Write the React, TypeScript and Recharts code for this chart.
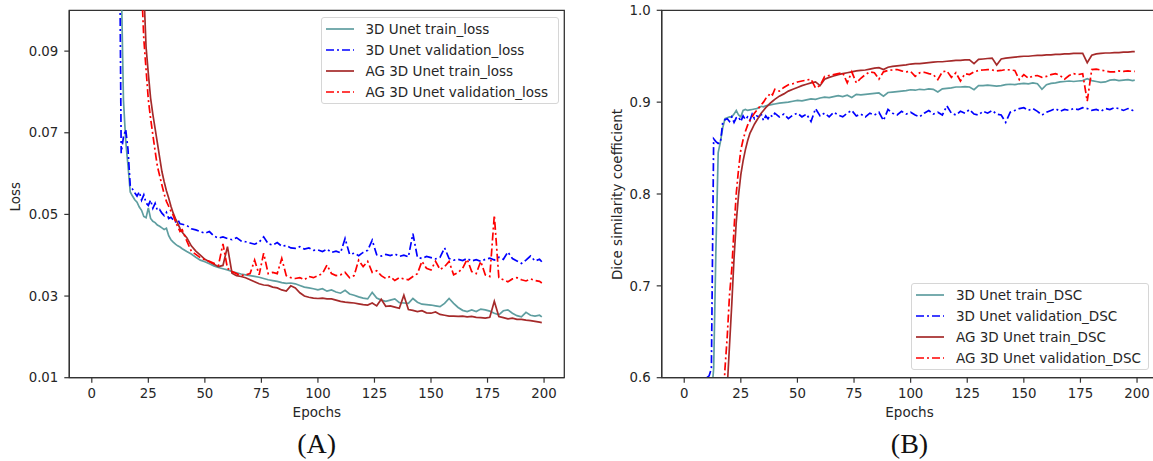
import React from 'react';
import { LineChart, Line, XAxis, YAxis, ReferenceArea } from 'recharts';

// ---------- shared categories ----------
const epochs = [
  10, 11, 12, 13, 14, 15, 16, 17, 18, 19,
  20, 21, 22, 23, 24, 25, 26, 27, 28, 29,
  30, 31, 32, 33, 34, 35, 36, 37, 38, 39,
  40,
  42, 44, 46, 48, 50, 52, 54, 56, 58, 60,
  62, 64, 66, 68, 70, 72, 74, 76, 78, 80,
  82, 84, 86, 88, 90, 92, 94, 96, 98, 100,
  102, 104, 106, 108, 110, 112, 114, 116, 118, 120,
  122, 124, 126, 128, 130, 132, 134, 136, 138, 140,
  142, 144, 146, 148, 150, 152, 154, 156, 158, 160,
  162, 164, 166, 168, 170, 172, 174, 176, 178, 180,
  182, 184, 186, 188, 190, 192, 194, 196, 198,
  199,
];

const xTicks = [0, 25, 50, 75, 100, 125, 150, 175, 200];
const lossTicks = [0.01, 0.03, 0.05, 0.07, 0.09];
const dscTicks = [0.6, 0.7, 0.8, 0.9, 1.0];

// ---------- panel A: loss ----------
const trainLoss3D = [
  0.16, 0.14, 0.125, 0.108, 0.078, 0.068, 0.062, 0.0555, 0.0545, 0.0536,
  0.053, 0.0518, 0.051, 0.0495, 0.0492, 0.0516, 0.049, 0.0483, 0.048, 0.0474,
  0.0471, 0.0467, 0.0463, 0.0466, 0.0448, 0.0438, 0.0432, 0.0427, 0.0423, 0.042,
  0.0416,
  0.0409, 0.0403, 0.0395, 0.0388, 0.0384, 0.0379, 0.0374, 0.037, 0.0367, 0.0364,
  0.036, 0.0357, 0.0354, 0.0352, 0.035, 0.0348, 0.0346, 0.0343, 0.034, 0.0338,
  0.0336, 0.0333, 0.0331, 0.0332, 0.033, 0.0326, 0.0322, 0.032, 0.0318, 0.0315,
  0.0318, 0.0312, 0.0315, 0.031, 0.0307, 0.0314, 0.0305, 0.0302, 0.0298, 0.0295,
  0.0293, 0.0309, 0.0295, 0.029, 0.0287, 0.029, 0.0293, 0.0284, 0.0283, 0.0282,
  0.0294, 0.0285, 0.028, 0.0279, 0.0278, 0.0276, 0.0274, 0.0282, 0.0294, 0.0282,
  0.0272, 0.0265, 0.0262, 0.0266, 0.0262, 0.0268, 0.0266, 0.0263, 0.0258, 0.0254,
  0.0264, 0.0266, 0.0258, 0.0252, 0.0249, 0.026, 0.0253, 0.0251, 0.0253,
  0.0249,
];

const valLoss3D = [
  0.2, 0.17, 0.14, 0.065, 0.069, 0.0708, 0.066, 0.057, 0.0562, 0.0553,
  0.0545, 0.0555, 0.0535, 0.0548, 0.0528, 0.0522, 0.0535, 0.0515, 0.0527, 0.051,
  0.0512, 0.0503, 0.0497, 0.0505, 0.049, 0.0493, 0.0487, 0.0482, 0.0488, 0.0477,
  0.0476,
  0.0473, 0.0465, 0.0462, 0.0458, 0.0454, 0.0458, 0.0447, 0.0442, 0.0445, 0.0441,
  0.0438, 0.0443, 0.0435, 0.0433, 0.043, 0.0427, 0.0432, 0.0445, 0.0428, 0.0425,
  0.0431, 0.0422, 0.0424, 0.0418, 0.0417, 0.0421, 0.0415, 0.0418, 0.0412, 0.0413,
  0.0409, 0.0415, 0.0407, 0.041, 0.0406, 0.0441, 0.0402, 0.0405, 0.0399, 0.0407,
  0.0412, 0.0437, 0.0401, 0.0398, 0.0402, 0.0399, 0.0403, 0.0397, 0.04, 0.0396,
  0.0453, 0.0395, 0.0392, 0.0397, 0.0394, 0.0391, 0.0395, 0.0418, 0.0392, 0.0388,
  0.039, 0.0387, 0.0392, 0.0386, 0.0389, 0.0385, 0.039, 0.0393, 0.0388, 0.0395,
  0.039, 0.0408, 0.0392, 0.0386, 0.038, 0.0388, 0.0398, 0.0386, 0.039,
  0.0384,
];

const trainLossAG = [
  0.3, 0.28, 0.26, 0.24, 0.22, 0.2, 0.185, 0.17, 0.155, 0.145,
  0.135, 0.125, 0.115, 0.105, 0.091, 0.0845, 0.0785, 0.0745, 0.071, 0.0675,
  0.064, 0.0605, 0.058, 0.0558, 0.054, 0.052, 0.0503, 0.049, 0.0478, 0.0466,
  0.0456,
  0.0443, 0.0423, 0.041, 0.04, 0.039, 0.0384, 0.0378, 0.0372, 0.0375, 0.0421,
  0.0356, 0.035, 0.0348, 0.0345, 0.034, 0.0335, 0.033, 0.0327, 0.0326, 0.0322,
  0.032, 0.0315, 0.0312, 0.0325, 0.032, 0.0308, 0.03, 0.0297, 0.0295, 0.0294,
  0.0295, 0.0293, 0.0293, 0.029, 0.0287, 0.0285, 0.0284, 0.0283, 0.0281, 0.0279,
  0.0278, 0.0283, 0.0276, 0.0292, 0.0275, 0.0276, 0.0273, 0.027, 0.0302, 0.0267,
  0.0265, 0.0262, 0.0264, 0.0259, 0.0258, 0.0261, 0.0255, 0.0253, 0.0251, 0.0251,
  0.025, 0.0251, 0.0249, 0.025, 0.0248, 0.0247, 0.0246, 0.0248, 0.0287, 0.025,
  0.0247, 0.0244, 0.0246, 0.0243, 0.0243, 0.0241, 0.024, 0.0238, 0.0236,
  0.0235,
];

const valLossAG = [
  0.3, 0.28, 0.26, 0.24, 0.22, 0.2, 0.18, 0.165, 0.15, 0.14,
  0.128, 0.117, 0.106, 0.093, 0.0855, 0.0781, 0.0735, 0.0695, 0.0655, 0.0618,
  0.0595, 0.0572, 0.055, 0.0532, 0.052, 0.0508, 0.0498, 0.0482, 0.047, 0.0458,
  0.0462,
  0.0435, 0.041, 0.0402, 0.0394, 0.0389, 0.0385, 0.038, 0.0375, 0.0428, 0.0368,
  0.036, 0.0355, 0.035, 0.0352, 0.0355, 0.0388, 0.0352, 0.0405, 0.0355, 0.0358,
  0.0355, 0.0392, 0.035, 0.0345, 0.0343, 0.0345, 0.034, 0.0348, 0.0345, 0.035,
  0.0355, 0.0376, 0.0355, 0.035, 0.0352, 0.0358, 0.0345, 0.035, 0.0388, 0.0372,
  0.0385, 0.0358, 0.0362, 0.035, 0.0343, 0.0348, 0.0338, 0.0345, 0.0342, 0.034,
  0.0348, 0.0355, 0.0385, 0.0368, 0.0364, 0.0385, 0.0365, 0.0372, 0.0385, 0.0352,
  0.0358, 0.0368, 0.039, 0.036, 0.0355, 0.0385, 0.0352, 0.0348, 0.0498, 0.0345,
  0.034, 0.0335, 0.0342, 0.0345, 0.034, 0.0337, 0.0342, 0.0338, 0.0336,
  0.0332,
];

// ---------- panel B: Dice similarity coefficient ----------
const trainDSC3D = [
  0.5, 0.52, 0.58, 0.61, 0.74, 0.845, 0.857, 0.872, 0.882, 0.883,
  0.884, 0.884, 0.887, 0.891, 0.886, 0.884, 0.891, 0.892, 0.891, 0.8915,
  0.892, 0.8925, 0.893, 0.894, 0.8955, 0.895, 0.896, 0.8965, 0.897, 0.8975,
  0.898,
  0.899, 0.8995, 0.9, 0.901, 0.902, 0.9015, 0.9025, 0.9035, 0.903, 0.9045,
  0.9055, 0.905, 0.906, 0.907, 0.906, 0.9075, 0.905, 0.9085, 0.908, 0.9085,
  0.909, 0.9095, 0.91, 0.9065, 0.9105, 0.911, 0.9115, 0.912, 0.9125, 0.9135,
  0.913, 0.914, 0.9135, 0.9145, 0.914, 0.911, 0.9145, 0.915, 0.9155, 0.9165,
  0.9165, 0.917, 0.9165, 0.9135, 0.918, 0.918, 0.9185, 0.918, 0.9175, 0.918,
  0.919, 0.9195, 0.919, 0.92, 0.9205, 0.92, 0.921, 0.92, 0.914, 0.919,
  0.9205, 0.921, 0.922, 0.9225, 0.923, 0.9225, 0.923, 0.9235, 0.9255, 0.9235,
  0.9225, 0.9215, 0.922, 0.924, 0.9245, 0.9235, 0.924, 0.9245, 0.9235,
  0.924,
];

const valDSC3D = [
  0.6, 0.602, 0.61, 0.86, 0.857, 0.855, 0.856, 0.878, 0.881, 0.882,
  0.879, 0.884, 0.878, 0.883, 0.884, 0.879, 0.885, 0.881, 0.884, 0.88,
  0.887, 0.882, 0.885, 0.884, 0.887, 0.88, 0.885, 0.882, 0.886, 0.884,
  0.888,
  0.884, 0.887, 0.882, 0.886, 0.888, 0.884, 0.887, 0.879, 0.893, 0.885,
  0.888, 0.884, 0.889, 0.886, 0.884, 0.888, 0.891, 0.885, 0.887, 0.884,
  0.888, 0.886, 0.889, 0.88, 0.892, 0.888, 0.886, 0.89, 0.887, 0.889,
  0.886, 0.884, 0.888, 0.891, 0.887, 0.889, 0.886, 0.896, 0.888, 0.886,
  0.89, 0.888, 0.892, 0.887, 0.886, 0.89, 0.888, 0.891, 0.887, 0.886,
  0.878, 0.889, 0.891, 0.893, 0.894, 0.891, 0.893, 0.89, 0.886, 0.889,
  0.891, 0.893, 0.89, 0.892, 0.891, 0.893, 0.892, 0.894, 0.893, 0.891,
  0.892, 0.89, 0.893, 0.892, 0.894, 0.893, 0.891, 0.893, 0.891,
  0.892,
];

const trainDSCAG = [
  0.4, 0.42, 0.44, 0.46, 0.48, 0.5, 0.52, 0.54, 0.565, 0.59,
  0.635, 0.68, 0.73, 0.77, 0.799, 0.821, 0.836, 0.848, 0.858, 0.866,
  0.871, 0.876, 0.88, 0.884, 0.888, 0.891, 0.894, 0.8965, 0.899, 0.901,
  0.903,
  0.9065, 0.909, 0.912, 0.914, 0.916, 0.918, 0.9195, 0.921, 0.922, 0.918,
  0.925, 0.927, 0.9285, 0.93, 0.931, 0.932, 0.933, 0.934, 0.9345, 0.935,
  0.936, 0.937, 0.9375, 0.9355, 0.938, 0.939, 0.9395, 0.94, 0.9405, 0.9415,
  0.942, 0.942, 0.9425, 0.943, 0.9435, 0.944, 0.944, 0.9445, 0.945, 0.9455,
  0.9455, 0.946, 0.946, 0.942, 0.9465, 0.947, 0.9475, 0.948, 0.9405, 0.947,
  0.948, 0.9485, 0.949, 0.9495, 0.95, 0.95, 0.9505, 0.951, 0.951, 0.9515,
  0.9515, 0.952, 0.952, 0.9525, 0.9525, 0.953, 0.953, 0.953, 0.943, 0.951,
  0.9525, 0.953, 0.9535, 0.9535, 0.954, 0.954, 0.9545, 0.9545, 0.955,
  0.955,
];

const valDSCAG = [
  0.4, 0.42, 0.44, 0.46, 0.48, 0.5, 0.53, 0.56, 0.61, 0.645,
  0.69, 0.718, 0.762, 0.801, 0.827, 0.848, 0.859, 0.868, 0.875, 0.88,
  0.884, 0.888, 0.891, 0.894, 0.897, 0.9, 0.904, 0.906, 0.91, 0.908,
  0.914,
  0.912, 0.916, 0.919, 0.92, 0.922, 0.923, 0.924, 0.925, 0.9155, 0.918,
  0.928, 0.929, 0.93, 0.931, 0.932, 0.921, 0.933, 0.921, 0.926, 0.93,
  0.933, 0.932, 0.925, 0.933, 0.9345, 0.935, 0.9355, 0.934, 0.933, 0.9335,
  0.928, 0.932, 0.9325, 0.931, 0.93, 0.9245, 0.933, 0.934, 0.927, 0.932,
  0.923, 0.931, 0.93, 0.933, 0.9345, 0.935, 0.9355, 0.935, 0.934, 0.9345,
  0.9355, 0.935, 0.9345, 0.9245, 0.93, 0.926, 0.9285, 0.929, 0.927, 0.928,
  0.93, 0.931, 0.929, 0.925, 0.929, 0.931, 0.93, 0.931, 0.901, 0.9355,
  0.936, 0.935, 0.934, 0.933, 0.933, 0.934, 0.9335, 0.934, 0.9335,
  0.9335,
];

const lossLabels = [
  '3D Unet train_loss',
  '3D Unet validation_loss',
  'AG 3D Unet train_loss',
  'AG 3D Unet validation_loss',
];
const dscLabels = [
  '3D Unet train_DSC',
  '3D Unet validation_DSC',
  'AG 3D Unet train_DSC',
  'AG 3D Unet validation_DSC',
];

// ---------- styling ----------
const FONT = '"DejaVu Sans", Verdana, sans-serif';
const SERIF = '"Liberation Serif", "Times New Roman", serif';
const AXIS = '#333333';
const TEXT = '#262626';
const TEAL = '#5f9ea0';
const BLUE = '#0000ff';
const BROWN = '#a52a2a';
const RED = '#ff0000';
const DASHDOT = '8 3 2 3';
const LW = 1.7;

const seriesStyle = [
  { color: TEAL, dash: undefined as string | undefined },
  { color: BLUE, dash: DASHDOT },
  { color: BROWN, dash: undefined as string | undefined },
  { color: RED, dash: DASHDOT },
];

const lossData = epochs.map((e, i) => ({
  epoch: e,
  s0: trainLoss3D[i],
  s1: valLoss3D[i],
  s2: trainLossAG[i],
  s3: valLossAG[i],
}));

const dscData = epochs.map((e, i) => ({
  epoch: e,
  s0: trainDSC3D[i],
  s1: valDSC3D[i],
  s2: trainDSCAG[i],
  s3: valDSCAG[i],
}));

const X_DOMAIN: [number, number] = [-9.95, 208.95];

function LegendBox({ left, top, labels }: { left: number; top: number; labels: string[] }) {
  return (
    <div
      style={{
        position: 'absolute',
        left,
        top,
        width: 238,
        height: 87,
        boxSizing: 'border-box',
        border: '1px solid #d6d6d6',
        borderRadius: 3,
        background: 'rgba(255,255,255,0.85)',
      }}
    >
      {labels.map((lab, i) => (
        <div
          key={lab}
          style={{
            position: 'absolute',
            left: 3,
            top: 0.5 + i * 21,
            height: 20,
            display: 'flex',
            alignItems: 'center',
          }}
        >
          <svg width={30} height={20} style={{ display: 'block' }}>
            <line
              x1={1}
              x2={29}
              y1={10}
              y2={10}
              stroke={seriesStyle[i].color}
              strokeWidth={LW}
              strokeDasharray={seriesStyle[i].dash}
            />
          </svg>
          <span
            style={{
              marginLeft: 11,
              fontFamily: FONT,
              fontSize: 13.5,
              color: TEXT,
              whiteSpace: 'nowrap',
              lineHeight: '20px',
            }}
          >
            {lab}
          </span>
        </div>
      ))}
    </div>
  );
}

function Panel({
  data,
  yDomain,
  yTicks,
  digits,
  width,
  marginLeft,
  marginRight,
}: {
  data: any[];
  yDomain: [number, number];
  yTicks: number[];
  digits: number;
  width: number;
  marginLeft: number;
  marginRight: number;
}) {
  const tickStyle = { fill: TEXT, fontSize: 13.3, fontFamily: FONT };
  return (
    <LineChart
      width={width}
      height={461}
      data={data}
      margin={{ top: 10.3, right: marginRight, bottom: 53.3, left: marginLeft }}
    >
      <XAxis
        dataKey="epoch"
        type="number"
        domain={X_DOMAIN}
        ticks={xTicks}
        allowDataOverflow
        interval={0}
        height={30}
        tick={tickStyle}
        tickSize={5}
        tickMargin={5.5}
        tickLine={{ stroke: AXIS, strokeWidth: 1.2 }}
        axisLine={{ stroke: AXIS, strokeWidth: 1.3 }}
      />
      <YAxis
        type="number"
        domain={yDomain}
        ticks={yTicks}
        allowDataOverflow
        interval={0}
        width={60}
        tick={tickStyle}
        tickSize={5}
        tickMargin={6}
        tickFormatter={(v: number) => v.toFixed(digits)}
        tickLine={{ stroke: AXIS, strokeWidth: 1.2 }}
        axisLine={{ stroke: AXIS, strokeWidth: 1.3 }}
      />
      {seriesStyle.map((s, i) => (
        <Line
          key={i}
          dataKey={'s' + i}
          type="linear"
          stroke={s.color}
          strokeWidth={LW}
          strokeDasharray={s.dash}
          dot={false}
          activeDot={false}
          isAnimationActive={false}
        />
      ))}
      <ReferenceArea
        x1={X_DOMAIN[0]}
        x2={X_DOMAIN[1]}
        y1={yDomain[0]}
        y2={yDomain[1]}
        ifOverflow="visible"
        fill="none"
        fillOpacity={0}
        stroke={AXIS}
        strokeWidth={1.3}
      />
    </LineChart>
  );
}

export default function App() {
  return (
    <div
      style={{
        position: 'absolute',
        left: 0,
        top: 0,
        width: 1153,
        height: 461,
        overflow: 'hidden',
        background: '#ffffff',
      }}
    >
      <div style={{ position: 'absolute', left: 0, top: 0 }}>
        <Panel
          data={lossData}
          yDomain={[0.01, 0.1]}
          yTicks={lossTicks}
          digits={2}
          width={580}
          marginLeft={9.3}
          marginRight={15.7}
        />
      </div>
      <div style={{ position: 'absolute', left: 580, top: 0 }}>
        <Panel
          data={dscData}
          yDomain={[0.6, 1.0]}
          yTicks={dscTicks}
          digits={1}
          width={600}
          marginLeft={21.7}
          marginRight={22.7}
        />
      </div>

      <LegendBox left={320.5} top={17} labels={lossLabels} />
      <LegendBox left={911} top={283} labels={dscLabels} />

      <svg
        width={1153}
        height={461}
        style={{ position: 'absolute', left: 0, top: 0, pointerEvents: 'none' }}
      >
        <text
          transform="translate(20.2,196.7) rotate(-90)"
          textAnchor="middle"
          fontFamily={FONT}
          fontSize={13.5}
          fill={TEXT}
        >
          Loss
        </text>
        <text
          transform="translate(621.5,194.5) rotate(-90)"
          textAnchor="middle"
          fontFamily={FONT}
          fontSize={13.5}
          fill={TEXT}
        >
          Dice similarity coefficient
        </text>
        <text x={316.8} y={416.5} textAnchor="middle" fontFamily={FONT} fontSize={13.5} fill={TEXT}>
          Epochs
        </text>
        <text x={909.5} y={416.5} textAnchor="middle" fontFamily={FONT} fontSize={13.5} fill={TEXT}>
          Epochs
        </text>
        <text x={316.7} y={453} textAnchor="middle" fontFamily={SERIF} fontSize={28} fill="#111">
          (A)
        </text>
        <text x={909.5} y={453} textAnchor="middle" fontFamily={SERIF} fontSize={28} fill="#111">
          (B)
        </text>
      </svg>
    </div>
  );
}
